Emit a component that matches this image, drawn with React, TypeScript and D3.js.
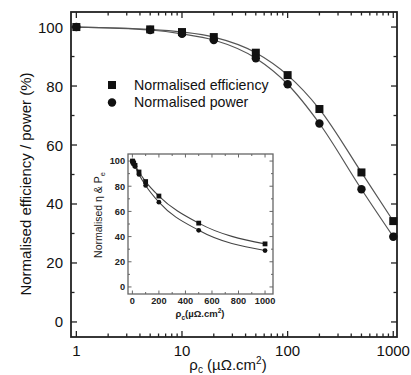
import React, { useEffect, useRef } from 'react';
import * as d3 from 'd3';

// contact resistivity (µΩ.cm²)
const rho = [1, 5, 10, 20, 50, 100, 200, 500, 1000];
const efficiency = [100, 99.2, 98.3, 96.6, 91.3, 83.7, 72.2, 50.7, 34.2];
const power = [100, 99.0, 97.7, 95.6, 89.4, 80.6, 67.3, 45.0, 28.9];

const mainYTicks = [0, 20, 40, 60, 80, 100];
const mainXTicks = [1, 10, 100, 1000];
const insetYTicks = [0, 20, 40, 60, 80, 100];
const insetXTicks = [0, 200, 400, 600, 800, 1000];

const legendLabels = ['Normalised efficiency', 'Normalised power'];

const FONT = 'Liberation Sans, Arial, sans-serif';

export default function App() {
  const svgRef = useRef<SVGSVGElement>(null);

  useEffect(() => {
    if (!svgRef.current) return;
    const svg = d3.select(svgRef.current);
    svg.selectAll('*').remove();

    // ---------- main plot ----------
    const L = 71, R = 397, T = 12, B = 337;
    const x = d3.scaleLog().domain([0.89, 1085]).range([L, R]);
    const y = d3.scaleLinear().domain([-5.1, 105.1]).range([B, T]);

    const g = svg.append('g');

    // frame
    g.append('rect')
      .attr('x', L).attr('y', T).attr('width', R - L).attr('height', B - T)
      .attr('fill', 'none').attr('stroke', '#222').attr('stroke-width', 1.8);

    // y ticks (both sides, inward)
    d3.range(0, 101, 10).forEach(v => {
      const len = v % 20 === 0 ? 6 : 3.5;
      g.append('line').attr('x1', L).attr('x2', L + len).attr('y1', y(v)).attr('y2', y(v))
        .attr('stroke', '#222').attr('stroke-width', 1.3);
      g.append('line').attr('x1', R).attr('x2', R - len).attr('y1', y(v)).attr('y2', y(v))
        .attr('stroke', '#222').attr('stroke-width', 1.3);
    });
    mainYTicks.forEach(v => {
      g.append('text').attr('x', 63).attr('y', y(v) + 5.5)
        .attr('text-anchor', 'end').attr('font-family', FONT).attr('font-size', 15)
        .attr('fill', '#111').text(v);
    });

    // x ticks (log, minor)
    const xMinor: number[] = [];
    [1, 10, 100].forEach(d => { for (let k = 1; k < 10; k++) xMinor.push(d * k); });
    xMinor.push(1000);
    xMinor.forEach(v => {
      const major = mainXTicks.includes(v);
      const len = major ? 6 : 3.5;
      g.append('line').attr('x1', x(v)).attr('x2', x(v)).attr('y1', B).attr('y2', B - len)
        .attr('stroke', '#222').attr('stroke-width', 1.3);
      g.append('line').attr('x1', x(v)).attr('x2', x(v)).attr('y1', T).attr('y2', T + len)
        .attr('stroke', '#222').attr('stroke-width', 1.3);
    });
    mainXTicks.forEach(v => {
      g.append('text').attr('x', x(v)).attr('y', 356)
        .attr('text-anchor', 'middle').attr('font-family', FONT).attr('font-size', 15)
        .attr('fill', '#111').text(v);
    });

    // axis labels
    const xl = g.append('text').attr('x', 228).attr('y', 370)
      .attr('text-anchor', 'middle').attr('font-family', FONT).attr('font-size', 15).attr('fill', '#111');
    xl.append('tspan').text('ρ');
    xl.append('tspan').attr('font-size', 10).attr('dy', 3).text('c');
    xl.append('tspan').attr('dy', -3).text(' (µΩ.cm');
    xl.append('tspan').attr('font-size', 10).attr('dy', -6).text('2');
    xl.append('tspan').attr('dy', 6).text(')');

    g.append('text')
      .attr('transform', `translate(31, 184) rotate(-90)`)
      .attr('text-anchor', 'middle').attr('font-family', FONT).attr('font-size', 15)
      .attr('fill', '#111').text('Normalised efficiency / power (%)');

    // curves
    const line = d3.line<number>()
      .x((_, i) => x(rho[i]))
      .y(d => y(d))
      .curve(d3.curveMonotoneX);
    [efficiency, power].forEach(s => {
      g.append('path').attr('d', line(s)).attr('fill', 'none')
        .attr('stroke', '#555').attr('stroke-width', 1.2);
    });

    // markers
    efficiency.forEach((v, i) => {
      g.append('rect').attr('x', x(rho[i]) - 4).attr('y', y(v) - 4)
        .attr('width', 8).attr('height', 8).attr('fill', '#111');
    });
    power.forEach((v, i) => {
      g.append('circle').attr('cx', x(rho[i])).attr('cy', y(v)).attr('r', 4.2).attr('fill', '#111');
    });

    // legend
    g.append('rect').attr('x', 108).attr('y', 81).attr('width', 8).attr('height', 8).attr('fill', '#111');
    g.append('circle').attr('cx', 112).attr('cy', 102.5).attr('r', 4.2).attr('fill', '#111');
    legendLabels.forEach((t, i) => {
      g.append('text').attr('x', 134).attr('y', 90 + i * 17)
        .attr('font-family', FONT).attr('font-size', 14.2).attr('fill', '#111').text(t);
    });

    // ---------- inset ----------
    const iL = 128, iR = 273, iT = 154, iB = 294;
    const ix = d3.scaleLinear().domain([-33, 1060]).range([iL, iR]);
    const iy = d3.scaleLinear().domain([-5.6, 105.6]).range([iB, iT]);

    const ig = svg.append('g');
    ig.append('rect')
      .attr('x', iL).attr('y', iT).attr('width', iR - iL).attr('height', iB - iT)
      .attr('fill', '#fff').attr('stroke', '#666').attr('stroke-width', 1.3);

    d3.range(0, 101, 10).forEach(v => {
      const len = v % 20 === 0 ? 3.5 : 2;
      ig.append('line').attr('x1', iL).attr('x2', iL + len).attr('y1', iy(v)).attr('y2', iy(v))
        .attr('stroke', '#666').attr('stroke-width', 1);
      ig.append('line').attr('x1', iR).attr('x2', iR - len).attr('y1', iy(v)).attr('y2', iy(v))
        .attr('stroke', '#666').attr('stroke-width', 1);
    });
    d3.range(0, 1001, 100).forEach(v => {
      const len = v % 200 === 0 ? 3.5 : 2;
      ig.append('line').attr('x1', ix(v)).attr('x2', ix(v)).attr('y1', iB).attr('y2', iB - len)
        .attr('stroke', '#666').attr('stroke-width', 1);
      ig.append('line').attr('x1', ix(v)).attr('x2', ix(v)).attr('y1', iT).attr('y2', iT + len)
        .attr('stroke', '#666').attr('stroke-width', 1);
    });
    insetYTicks.forEach(v => {
      ig.append('text').attr('x', 125).attr('y', iy(v) + 3.3)
        .attr('text-anchor', 'end').attr('font-family', FONT).attr('font-size', 9.2)
        .attr('font-weight', 'bold').attr('fill', '#222').text(v);
    });
    insetXTicks.forEach(v => {
      ig.append('text').attr('x', ix(v)).attr('y', 304)
        .attr('text-anchor', 'middle').attr('font-family', FONT).attr('font-size', 9.2)
        .attr('font-weight', 'bold').attr('fill', '#222').text(v);
    });

    const ixl = ig.append('text').attr('x', 200).attr('y', 317)
      .attr('text-anchor', 'middle').attr('font-family', FONT).attr('font-size', 9.5)
      .attr('font-weight', 'bold').attr('fill', '#222');
    ixl.append('tspan').text('ρ');
    ixl.append('tspan').attr('font-size', 6.5).attr('dy', 2.5).text('c');
    ixl.append('tspan').attr('dy', -2.5).text('(µΩ.cm');
    ixl.append('tspan').attr('font-size', 6.5).attr('dy', -4).text('2');
    ixl.append('tspan').attr('dy', 4).text(')');

    const iyl = ig.append('text')
      .attr('transform', `translate(102, 215) rotate(-90)`)
      .attr('text-anchor', 'middle').attr('font-family', FONT).attr('font-size', 10.5)
      .attr('fill', '#222');
    iyl.append('tspan').text('Normalised η & P');
    iyl.append('tspan').attr('font-size', 7.5).attr('dy', 3).text('e');

    const iline = d3.line<number>()
      .x((_, i) => ix(rho[i]))
      .y(d => iy(d))
      .curve(d3.curveMonotoneX);
    [efficiency, power].forEach(s => {
      ig.append('path').attr('d', iline(s)).attr('fill', 'none')
        .attr('stroke', '#444').attr('stroke-width', 1.1);
    });
    efficiency.forEach((v, i) => {
      ig.append('rect').attr('x', ix(rho[i]) - 2.4).attr('y', iy(v) - 2.4)
        .attr('width', 4.8).attr('height', 4.8).attr('fill', '#111');
    });
    power.forEach((v, i) => {
      ig.append('circle').attr('cx', ix(rho[i])).attr('cy', iy(v)).attr('r', 2.4).attr('fill', '#111');
    });
  }, []);

  return (
    <svg
      ref={svgRef}
      width={411}
      height={375}
      style={{ position: 'absolute', left: 0, top: 0, background: '#fff' }}
    />
  );
}
